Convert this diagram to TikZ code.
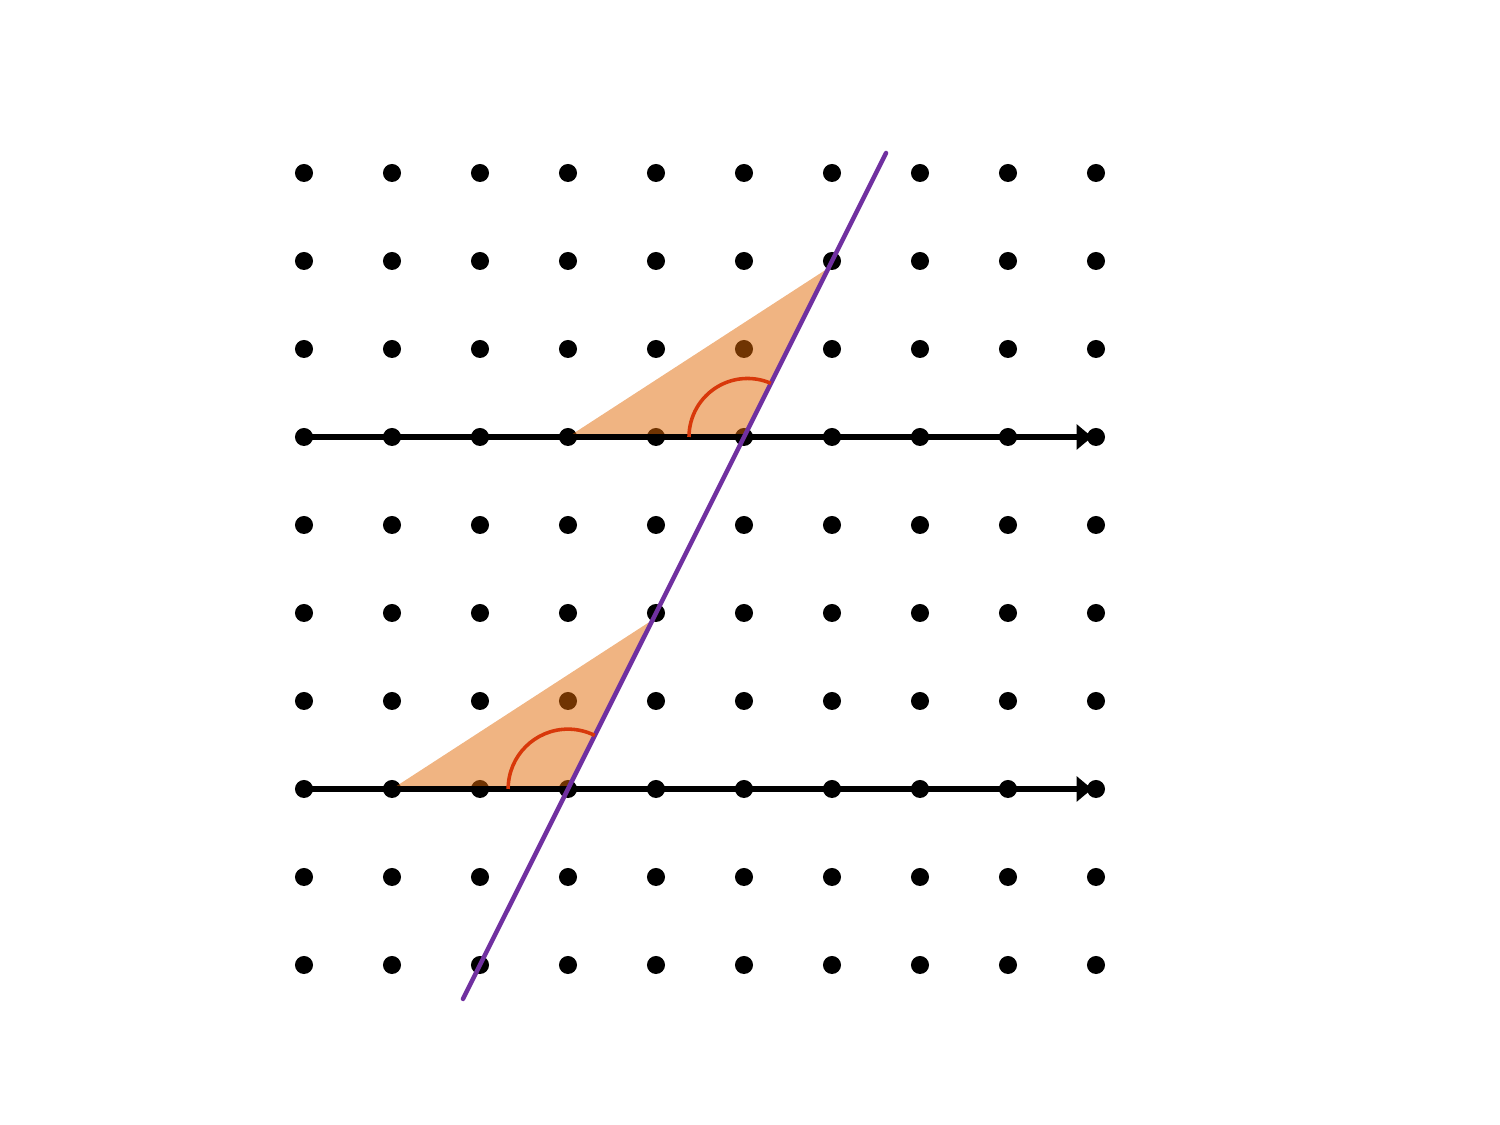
\documentclass[tikz,border=0pt]{standalone}
\usetikzlibrary{arrows.meta}
\definecolor{purpleL}{HTML}{7030A0}
\definecolor{arcred}{HTML}{D8380A}
\definecolor{triorange}{HTML}{E16905}
\tikzset{
  dot/.style={circle,fill=black,inner sep=0pt,minimum size=0.205cm},
  axisline/.style={line width=1.85pt,-{Triangle[length=5pt,width=8pt]}},
  transversal/.style={draw=purpleL,line width=1.45pt,line cap=round},
  angarc/.style={draw=arcred,line width=1.15pt},
  tri/.style={fill=triorange,fill opacity=0.5}
}
\begin{document}
\begin{tikzpicture}[x=1cm,y=1cm]
\useasboundingbox (-3.4545,-1.8182) rectangle (13.5909,10.9659);
% dot grid
\foreach \i in {0,...,9}{
  \foreach \j in {0,...,9}{
    \node[dot] (d-\i-\j) at (\i,\j) {};
  }
}
% triangles
\coordinate (t1a) at (5.96,7.92);
\coordinate (t2a) at (3.96,3.92);
\fill[tri] (d-3-6.center) -- (d-5-6.center) -- (t1a) -- cycle;
\fill[tri] (d-1-2.center) -- (d-3-2.center) -- (t2a) -- cycle;
% horizontal lines with arrows
\coordinate (e1) at (8.955,6);
\coordinate (e2) at (8.955,2);
\draw[axisline] (d-0-6.center) -- (e1);
\draw[axisline] (d-0-2.center) -- (e2);
% transversal
\coordinate (pA) at (1.807,-0.386);
\coordinate (pB) at (6.614,9.227);
\draw[transversal] (pA) -- (pB);
% angle arcs
\coordinate (c1) at (5.04,6);
\draw[angarc] ([shift={(180:0.665)}]c1) arc[start angle=180,end angle=66.5,radius=0.665];
\draw[angarc] ([shift={(180:0.68)}]d-3-2.center) arc[start angle=180,end angle=63.43,radius=0.68];
\end{tikzpicture}
\end{document}
